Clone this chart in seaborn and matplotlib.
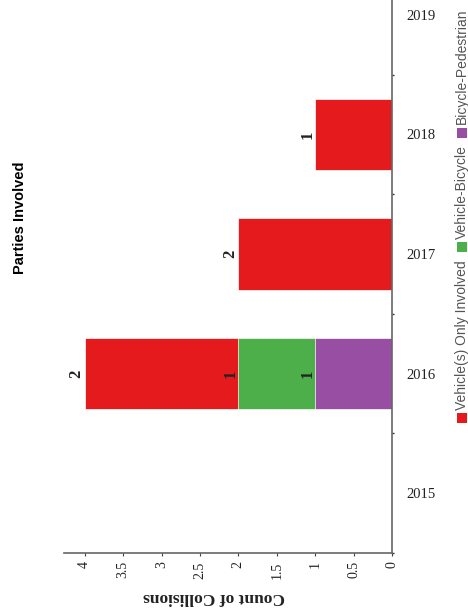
import matplotlib
matplotlib.use('Agg')
import numpy as np
import pandas as pd
import matplotlib.pyplot as plt
from matplotlib.patches import Rectangle
from matplotlib.ticker import MultipleLocator, FuncFormatter
from matplotlib.transforms import IdentityTransform
import seaborn as sns

# data
years = ['2015', '2016', '2017', '2018', '2019']
parties = ['Vehicle(s) Only Involved', 'Vehicle-Bicycle', 'Bicycle-Pedestrian']
vehicle_only = [0, 2, 2, 1, 0]
vehicle_bicycle = [0, 1, 0, 0, 0]
bicycle_pedestrian = [0, 1, 0, 0, 0]
colors = ['#e41a1c', '#4daf4a', '#984ea3']

sns.set_theme(style='white')
plt.rcParams['font.family'] = ['Liberation Serif', 'DejaVu Serif']

df = pd.DataFrame({'Year': years,
                   'Bicycle-Pedestrian': bicycle_pedestrian,
                   'Vehicle-Bicycle': vehicle_bicycle,
                   'Vehicle(s) Only Involved': vehicle_only})
# stack: purple at base, then green, then red
df['top_bp'] = df['Bicycle-Pedestrian']
df['top_vb'] = df['top_bp'] + df['Vehicle-Bicycle']
df['top_vo'] = df['top_vb'] + df['Vehicle(s) Only Involved']

order = years[::-1]

fig = plt.figure(figsize=(4.68, 6.15), dpi=100)
ax = fig.add_axes([64 / 468, 62 / 615, 328 / 468, 598 / 615])

for col, c in [('top_vo', colors[0]), ('top_vb', colors[1]), ('top_bp', colors[2])]:
    sns.barplot(data=df, x=col, y='Year', order=order, orient='h', color=c,
                width=0.6, saturation=1, edgecolor='white', linewidth=0.5, ax=ax)

# value labels at the end of each segment
for seg, top in [('Vehicle(s) Only Involved', 'top_vo'), ('Vehicle-Bicycle', 'top_vb'),
                 ('Bicycle-Pedestrian', 'top_bp')]:
    for _, row in df.iterrows():
        if row[seg] > 0:
            ax.annotate(f"{row[seg]:g}", xy=(row[top], order.index(row['Year'])),
                        xytext=(-8, 0), textcoords='offset pixels', rotation=90,
                        ha='center', va='center', fontsize=12, fontweight='bold',
                        color='#222222')

ax.set_xlim(4.27, 0)
ax.set_ylim(4.5, -0.5)
ax.xaxis.set_major_locator(MultipleLocator(0.5))
ax.xaxis.set_major_formatter(FuncFormatter(lambda v, p: f'{v:g}'))
ax.tick_params(axis='x', which='major', bottom=True, length=2, width=0.8,
               color='#444444', labelsize=10, labelcolor='#222222', labelrotation=90, pad=4)

ax.yaxis.tick_right()
ax.tick_params(axis='y', which='major', length=0, pad=10, labelsize=10.5, labelcolor='#222222')
ax.set_yticks(np.arange(-0.5, 5, 1), minor=True)
ax.tick_params(axis='y', which='minor', right=True, left=False, length=1.5, width=1, color='#333333')

ax.set_ylabel('')
ax.set_xlabel('Count of Collisions', rotation=180, fontsize=12.5, fontweight='bold',
              color='#222222')
ax.xaxis.set_label_coords(0.457, -0.06)

for s in ['top', 'left']:
    ax.spines[s].set_visible(False)
for s in ['right', 'bottom']:
    ax.spines[s].set_color('#666666')
    ax.spines[s].set_linewidth(1.2)

fig.text(20 / 468, 1 - 218 / 615, 'Parties Involved', rotation=90, ha='center', va='center',
         fontsize=10.5, fontweight='bold', family=['Liberation Sans', 'DejaVu Sans'], color='black')

# legend, rotated to read bottom to top
fig.canvas.draw()
r = fig.canvas.get_renderer()
ypix = 615 - 423
for name, c in zip(parties, colors):
    fig.patches.append(Rectangle((457, ypix), 10, 10, transform=IdentityTransform(),
                                 facecolor=c, edgecolor='none', figure=fig))
    t = fig.text(462, ypix + 13, name, rotation=90, ha='center', va='bottom',
                 transform=IdentityTransform(), fontsize=10,
                 family=['Liberation Sans', 'DejaVu Sans'], color='#555555')
    bb = t.get_window_extent(r)
    ypix = bb.y1 + 8

fig.savefig('out.png', dpi=100)
